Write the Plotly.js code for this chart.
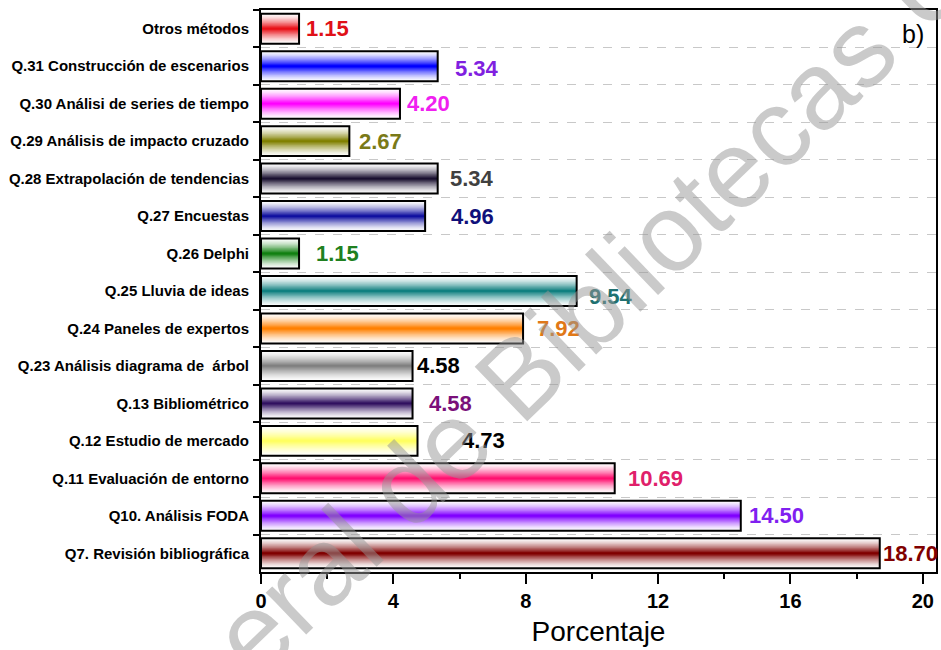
<!DOCTYPE html>
<html>
<head>
<meta charset="utf-8">
<script src="https://cdn.plot.ly/plotly-3.0.1.min.js"></script>
<style>html,body{margin:0;padding:0;background:#fff;}#chart{width:941px;height:650px;}</style>
</head>
<body>
<div id="chart"></div>
<script>
// Data (top to bottom as in the figure)
const categories = [
  "Otros métodos",
  "Q.31 Construcción de escenarios",
  "Q.30 Análisi de series de tiempo",
  "Q.29 Análisis de impacto cruzado",
  "Q.28 Extrapolación de tendencias",
  "Q.27 Encuestas",
  "Q.26 Delphi",
  "Q.25 Lluvia de ideas",
  "Q.24 Paneles de expertos",
  "Q.23 Análisis diagrama de  árbol",
  "Q.13 Bibliométrico",
  "Q.12 Estudio de mercado",
  "Q.11 Evaluación de entorno",
  "Q10. Análisis FODA",
  "Q7. Revisión bibliográfica"
];
const values = [1.15, 5.34, 4.20, 2.67, 5.34, 4.96, 1.15, 9.54, 7.92, 4.58, 4.58, 4.73, 10.69, 14.50, 18.70];
const valueLabels = ["1.15","5.34","4.20","2.67","5.34","4.96","1.15","9.54","7.92","4.58","4.58","4.73","10.69","14.50","18.70"];
const xTickVals = [0, 4, 8, 12, 16, 20];
const xTickText = ["0", "4", "8", "12", "16", "20"];

// Styles
const barColors = [
  [232, 16, 24], [0, 0, 255], [255, 0, 255], [128, 128, 0], [26, 16, 48],
  [16, 16, 160], [16, 128, 16], [16, 128, 128], [255, 128, 0], [128, 128, 128],
  [48, 16, 96], [255, 255, 96], [255, 16, 112], [128, 0, 255], [128, 0, 0]
];
const labelColors = ["#e01018", "#8020e0", "#f020f0", "#7a7a18", "#404040",
  "#10107a", "#208020", "#207070", "#e07818", "#000000",
  "#7a107a", "#000000", "#e0206a", "#8020f0", "#800000"];
const labelXShift = [5, 15, 5, 8, 10, 24, 15, 10, 12, 2, 14, 42, 11, 6, 1];
const labelYShift = [0, -2, 0, 0, 0, 0, 0, -5, 0, 0, 0, 0, 0, 0, 0];

const FONT = "Arial, 'Liberation Sans', sans-serif";
const BARW = 0.8;
const N = 16;

function mix(c, t) {
  const r = Math.round(255 + (c[0] - 255) * t);
  const g = Math.round(255 + (c[1] - 255) * t);
  const b = Math.round(255 + (c[2] - 255) * t);
  return `rgb(${r},${g},${b})`;
}

const traces = [];
for (let k = 0; k < N; k++) {
  const t = 0.02 + 0.98 * Math.pow(k / (N - 1), 1.4);
  traces.push({
    type: 'bar', orientation: 'h',
    x: values, y: categories,
    width: BARW * (1 - k / N),
    marker: { color: barColors.map(c => mix(c, t)), line: { width: 0 } },
    hoverinfo: 'skip', showlegend: false
  });
}
traces.push({
  type: 'bar', orientation: 'h',
  x: values, y: categories, width: BARW,
  marker: { color: 'rgba(0,0,0,0)', line: { color: '#000', width: 2 } },
  hoverinfo: 'x+y', showlegend: false
});

const annotations = values.map((v, i) => ({
  x: v, y: categories[i], xref: 'x', yref: 'y',
  text: valueLabels[i], showarrow: false,
  xanchor: 'left', yanchor: 'middle',
  xshift: labelXShift[i], yshift: labelYShift[i],
  font: { family: FONT, size: 22, color: labelColors[i], weight: 'bold' }
}));
annotations.push({
  x: 0.985, y: 0.985, xref: 'paper', yref: 'paper',
  xanchor: 'right', yanchor: 'top', showarrow: false,
  text: 'b)', font: { family: FONT, size: 25, color: '#000' }
});
annotations.push({
  x: 0.511, y: 0.5, xref: 'paper', yref: 'paper',
  xanchor: 'center', yanchor: 'middle', showarrow: false,
  text: 'General de Bibliotecas UNAM', textangle: -44,
  font: { family: FONT, size: 110, color: 'rgba(150,150,150,0.5)' }
});

const layout = {
  width: 941, height: 650,
  margin: { l: 261, r: 5, t: 10, b: 78 },
  paper_bgcolor: '#fff', plot_bgcolor: '#fff',
  barmode: 'overlay',
  font: { family: FONT, color: '#000' },
  xaxis: {
    range: [0, 20.4],
    tickvals: xTickVals, ticktext: xTickText,
    ticks: 'outside', ticklen: 10, tickwidth: 2, tickcolor: '#000',
    minor: { dtick: 2, tick0: 0, ticks: 'outside', ticklen: 5, tickwidth: 2, tickcolor: '#000', showgrid: false },
    tickfont: { family: FONT, size: 20, weight: 'bold' },
    showgrid: false, zeroline: false,
    showline: true, linecolor: '#000', linewidth: 2, mirror: true,
    title: { text: 'Porcentaje', font: { family: FONT, size: 28 }, standoff: 10 }
  },
  yaxis: {
    type: 'category',
    range: [14.5, -0.5],
    tickson: 'boundaries',
    ticks: 'outside', ticklen: 6, tickwidth: 2, tickcolor: '#000',
    ticklabelstandoff: 7,
    tickfont: { family: FONT, size: 15, weight: 'bold' },
    showgrid: true, gridcolor: '#c8c8c8', gridwidth: 1, griddash: 'dash',
    zeroline: false,
    showline: true, linecolor: '#000', linewidth: 2, mirror: true
  },
  annotations: annotations
};

Plotly.newPlot('chart', traces, layout, { displayModeBar: false, staticPlot: true });
</script>
</body>
</html>
